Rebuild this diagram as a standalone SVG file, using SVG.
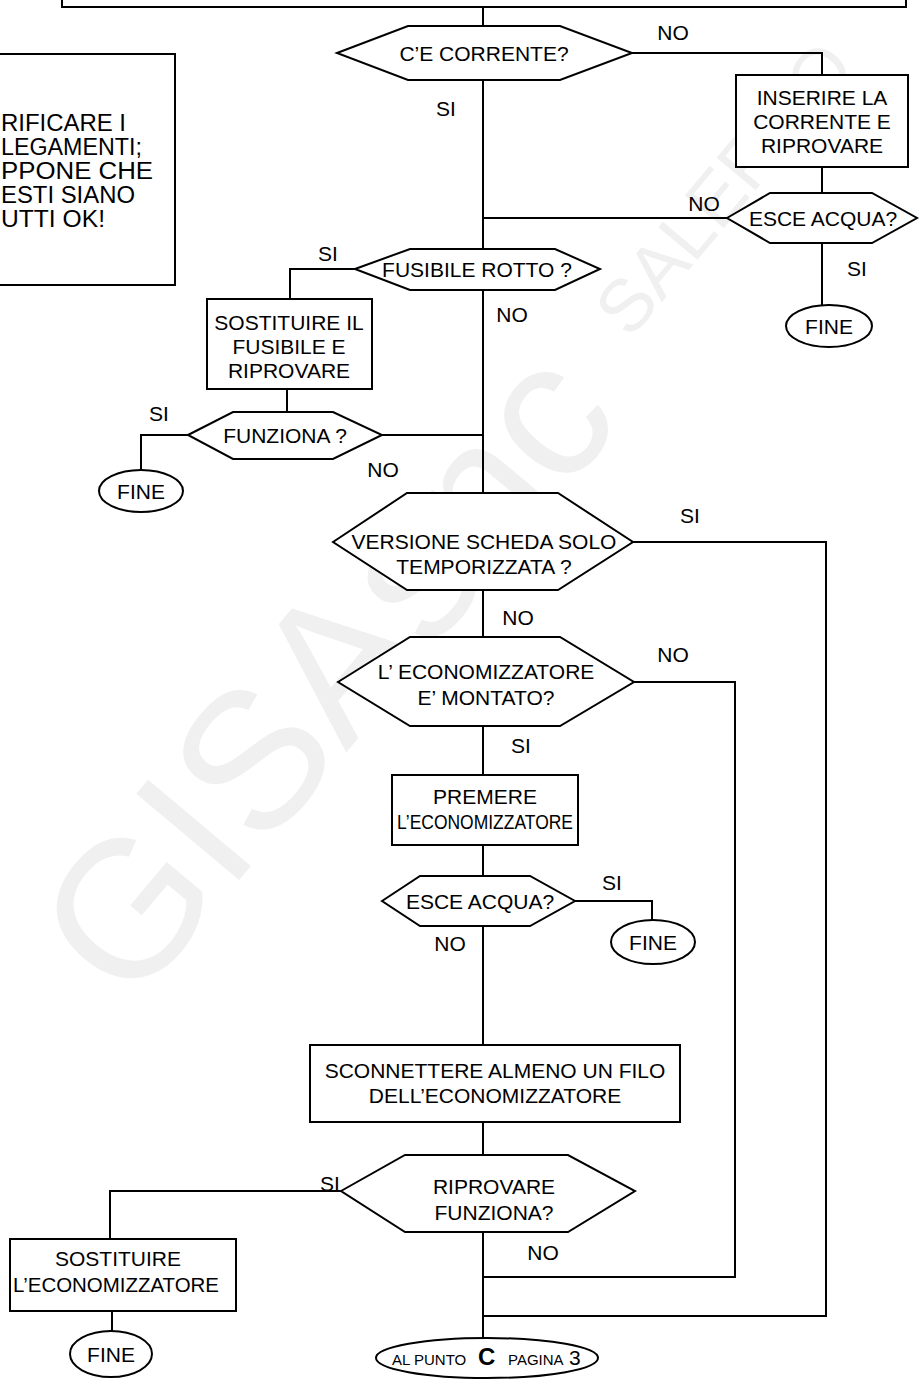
<svg xmlns="http://www.w3.org/2000/svg" width="920" height="1381" viewBox="0 0 920 1381">
<style>
.s{fill:none;stroke:#000;stroke-width:2}
.n{fill:#fff;stroke:#000;stroke-width:2}
text{font-family:"Liberation Sans",Arial,sans-serif;font-size:21px;fill:#000}
.c{text-anchor:middle}
.v{font-size:23px}
text.wm{fill:#f0f0f0}
</style>
<rect width="920" height="1381" fill="#fff"/>
<g id="watermark">
<text class="wm" style="font-size:195px" transform="translate(130,1010) rotate(-50)">GISAsnc</text>
<text class="wm" style="font-size:74px" transform="translate(630,340) rotate(-50)">SALERNO</text>
</g>
<g id="connectors">
<path class="s" d="M483,7V26M483,80V249M483,290V493M483,590V637M483,726V775M483,845V876M483,926V1045M483,1122V1155M483,1232V1338"/>
<path class="s" d="M632,53H822V75M822,167V193M822,243V305M727,218H483"/>
<path class="s" d="M355,269H290V298M287,390V412M188,435H141V470M382,435H483"/>
<path class="s" d="M633,542H826V1316H483M634,682H735V1277H483"/>
<path class="s" d="M575,901H652V920M341,1191H110V1240M112,1310V1331"/>
</g>
<g id="top"><rect class="n" x="62" y="-30" width="844" height="37"/></g>
<g id="verificare"><rect class="n" x="-10" y="54" width="185" height="231"/>
<text class="v" x="1" y="131" textLength="125" lengthAdjust="spacingAndGlyphs">RIFICARE I</text>
<text class="v" x="1" y="155" textLength="141" lengthAdjust="spacingAndGlyphs">LEGAMENTI;</text>
<text class="v" x="1" y="179" textLength="152" lengthAdjust="spacingAndGlyphs">PPONE CHE</text>
<text class="v" x="1" y="203" textLength="134" lengthAdjust="spacingAndGlyphs">ESTI SIANO</text>
<text class="v" x="1" y="227" textLength="104" lengthAdjust="spacingAndGlyphs">UTTI OK!</text></g>
<g id="corrente"><polygon class="n" points="337,53 408,26 560,26 632,53 560,80 408,80"/><text class="c" x="484" y="61">C’E CORRENTE?</text></g>
<g id="inserire"><rect class="n" x="736" y="75" width="172" height="92"/><text class="c" x="822" y="105">INSERIRE LA</text><text class="c" x="822" y="129">CORRENTE E</text><text class="c" x="822" y="153">RIPROVARE</text></g>
<g id="acqua1"><polygon class="n" points="727,218 770,193 872,193 917,218 872,243 770,243"/><text class="c" x="823" y="226">ESCE ACQUA?</text></g>
<g id="fine1"><ellipse class="n" cx="829" cy="326" rx="43" ry="21"/><text class="c" x="829" y="334">FINE</text></g>
<g id="fusibile"><polygon class="n" points="355,269 410,249 555,249 600,269 555,290 410,290"/><text class="c" x="477" y="277">FUSIBILE ROTTO ?</text></g>
<g id="sostfus"><rect class="n" x="207" y="299" width="165" height="90"/><text class="c" x="289" y="330">SOSTITUIRE IL</text><text class="c" x="289" y="354">FUSIBILE E</text><text class="c" x="289" y="378">RIPROVARE</text></g>
<g id="funziona"><polygon class="n" points="188,435 233,412 333,412 382,435 333,459 233,459"/><text class="c" x="285" y="443">FUNZIONA ?</text></g>
<g id="fine2"><ellipse class="n" cx="141" cy="491" rx="42" ry="21"/><text class="c" x="141" y="499">FINE</text></g>
<g id="versione"><polygon class="n" points="333,542 407,493 558,493 633,542 558,590 407,590"/><text class="c" x="484" y="549">VERSIONE SCHEDA SOLO</text><text class="c" x="484" y="574">TEMPORIZZATA ?</text></g>
<g id="economizz"><polygon class="n" points="338,682 410,637 560,637 634,682 560,726 410,726"/><text class="c" x="486" y="679">L’ ECONOMIZZATORE</text><text class="c" x="486" y="705">E’ MONTATO?</text></g>
<g id="premere"><rect class="n" x="392" y="775" width="186" height="70"/><text class="c" x="485" y="804">PREMERE</text><text class="c" x="485" y="829" textLength="176" lengthAdjust="spacingAndGlyphs">L’ECONOMIZZATORE</text></g>
<g id="acqua2"><polygon class="n" points="382,901 420,876 530,876 575,901 530,926 420,926"/><text class="c" x="480" y="909">ESCE ACQUA?</text></g>
<g id="fine3"><ellipse class="n" cx="653" cy="942" rx="42" ry="22"/><text class="c" x="653" y="950">FINE</text></g>
<g id="sconnettere"><rect class="n" x="310" y="1045" width="370" height="77"/><text class="c" x="495" y="1078">SCONNETTERE ALMENO UN FILO</text><text class="c" x="495" y="1103">DELL’ECONOMIZZATORE</text></g>
<g id="riprovare"><polygon class="n" points="341,1191 405,1155 568,1155 635,1191 568,1232 405,1232"/><text class="c" x="494" y="1194">RIPROVARE</text><text class="c" x="494" y="1220">FUNZIONA?</text></g>
<g id="sosteco"><rect class="n" x="10" y="1239" width="226" height="72"/><text class="c" x="118" y="1266">SOSTITUIRE</text><text class="c" x="116" y="1292" textLength="206" lengthAdjust="spacingAndGlyphs">L’ECONOMIZZATORE</text></g>
<g id="fine4"><ellipse class="n" cx="111" cy="1354" rx="41" ry="23"/><text class="c" x="111" y="1362">FINE</text></g>
<g id="terminal"><ellipse class="n" cx="487" cy="1358" rx="111" ry="20"/>
<text x="392" y="1365" style="font-size:15px">AL PUNTO</text>
<text x="478" y="1365" style="font-size:24px;font-weight:bold">C</text>
<text x="508" y="1365" style="font-size:15px">PAGINA</text>
<text x="569" y="1365">3</text></g>
<g id="labels">
<text class="c" x="673" y="40">NO</text>
<text class="c" x="446" y="116">SI</text>
<text class="c" x="704" y="211">NO</text>
<text class="c" x="857" y="276">SI</text>
<text class="c" x="328" y="261">SI</text>
<text class="c" x="512" y="322">NO</text>
<text class="c" x="159" y="421">SI</text>
<text class="c" x="383" y="477">NO</text>
<text class="c" x="690" y="523">SI</text>
<text class="c" x="518" y="625">NO</text>
<text class="c" x="673" y="662">NO</text>
<text class="c" x="521" y="753">SI</text>
<text class="c" x="612" y="890">SI</text>
<text class="c" x="450" y="951">NO</text>
<text class="c" x="330" y="1191">SI</text>
<text class="c" x="543" y="1260">NO</text>
</g>
</svg>
